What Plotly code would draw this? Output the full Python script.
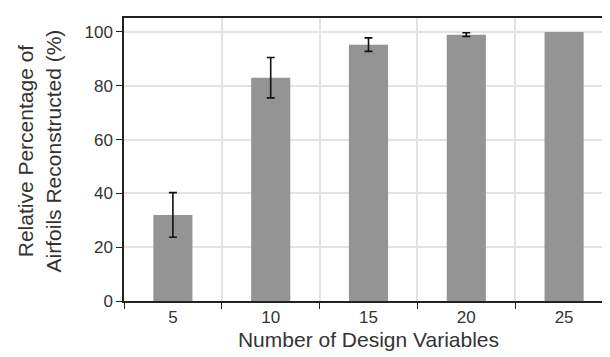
import plotly.graph_objects as go

categories = ["5", "10", "15", "20", "25"]
values = [32, 83, 95.3, 99, 100]
err_categories = ["5", "10", "15", "20"]
err_values = [32, 83, 95.3, 99]
errors = [8.3, 7.5, 2.5, 0.7]

fig = go.Figure()
fig.add_trace(go.Bar(
    x=categories, y=values,
    marker=dict(color="#949494", line=dict(width=0)),
    width=0.4,
))
fig.add_trace(go.Scatter(
    x=err_categories, y=err_values, mode="markers",
    marker=dict(size=0.1, color="rgba(0,0,0,0)"),
    error_y=dict(type="data", array=errors, visible=True, color="#111111", thickness=1.6, width=4),
    hoverinfo="skip",
))

fig.update_layout(
    width=610, height=357,
    margin=dict(l=116, r=3, t=10, b=64),
    paper_bgcolor="white", plot_bgcolor="white",
    font=dict(family="Liberation Sans, Arial, sans-serif", size=17, color="#333333"),
    showlegend=False,
    bargap=0.6,
)
fig.update_xaxes(
    type="category", categoryorder="array", categoryarray=categories,
    tickson="boundaries", ticks="outside", ticklen=6, tickcolor="#222222",
    showline=True, linecolor="#222222", linewidth=1.5, mirror=True,
    showgrid=True, gridcolor="#e3e3e3", gridwidth=1.5,
    title=dict(text="Number of Design Variables", font=dict(size=21, color="#333333"), standoff=6),
    tickfont=dict(size=17),
)
fig.update_yaxes(
    range=[0, 105.2], tickvals=[0, 20, 40, 60, 80, 100],
    ticks="outside", ticklen=6, tickcolor="#222222",
    showline=True, linecolor="#222222", linewidth=1.5, mirror=True,
    showgrid=True, gridcolor="#e3e3e3", gridwidth=1.5, zeroline=False,
    tickfont=dict(size=17),
)
fig.add_annotation(
    text="Relative Percentage of<br>Airfoils Reconstructed (%)",
    textangle=-90, xref="paper", yref="paper", x=-0.173, y=0.53,
    xanchor="center", yanchor="middle", showarrow=False,
    font=dict(size=21, color="#333333"),
)

fig.write_html("out.html")
